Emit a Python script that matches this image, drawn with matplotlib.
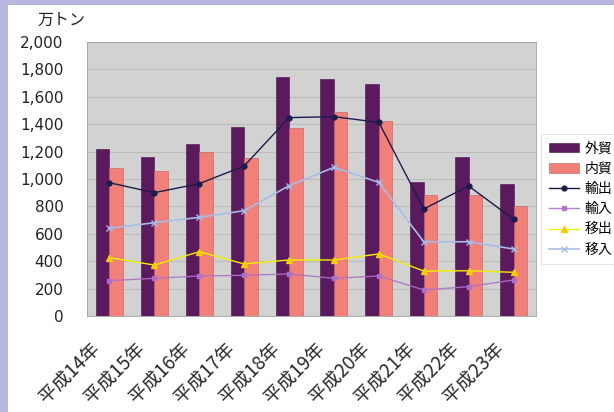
import numpy as np
import matplotlib
matplotlib.use("Agg")
import matplotlib.pyplot as plt
import matplotlib.transforms as mtransforms
from matplotlib.patches import Rectangle
from matplotlib.ticker import FuncFormatter

plt.rcParams['font.family'] = ['Noto Sans CJK JP', 'DejaVu Sans']

# datos (万トン)
anios = ['平成14年', '平成15年', '平成16年', '平成17年', '平成18年',
         '平成19年', '平成20年', '平成21年', '平成22年', '平成23年']
gaibo = [1220, 1163, 1255, 1380, 1747, 1730, 1693, 975, 1160, 961]
naibo = [1080, 1061, 1200, 1153, 1370, 1491, 1426, 883, 883, 805]
yushutsu = [973, 900, 966, 1095, 1448, 1455, 1413, 781, 949, 706]
yunyu = [258, 275, 292, 297, 307, 275, 292, 190, 214, 263]
ishutsu = [426, 372, 469, 380, 409, 409, 453, 328, 330, 319]
inyu = [640, 681, 720, 769, 951, 1085, 975, 542, 542, 489]

fig = plt.figure(figsize=(6.14, 4.12), dpi=100)
fig.patch.set_facecolor('#b6b6de')
# panel blanco
fig.patches.append(Rectangle((8 / 614, 0), 1, 1 - 5 / 412, transform=fig.transFigure,
                             facecolor='white', edgecolor='none', zorder=-10))

ax = fig.add_axes([87 / 614, 1 - 316 / 412, 449 / 614, 274 / 412])
ax.set_facecolor('#d2d2d2')

x = np.arange(len(anios))
w = 0.3
b1 = ax.bar(x - w / 2, gaibo, w, color='#5c1a5e', edgecolor='#4a1048', linewidth=0.4, label='外貿', zorder=2)
b2 = ax.bar(x + w / 2, naibo, w, color='#f08078', edgecolor='#b86060', linewidth=0.4, label='内貿', zorder=2)

l1, = ax.plot(x, yushutsu, color='#1c1c4c', lw=1.0, marker='o', ms=3.5, label='輸出', zorder=4)
l2, = ax.plot(x, yunyu, color='#b070c8', lw=1.0, marker='s', ms=3, alpha=0.9, label='輸入', zorder=4)
l3, = ax.plot(x, ishutsu, color='#f2f000', lw=1.0, marker='^', ms=5, mfc='#f5c800', mec='#f5d000', label='移出', zorder=4)
l4, = ax.plot(x, inyu, color='#a8bce8', lw=1.2, marker='x', ms=4, label='移入', zorder=4)

ax.set_xlim(-0.5, len(anios) - 0.5)
ax.set_ylim(0, 2000)
ax.set_yticks(np.arange(0, 2001, 200))
ax.yaxis.set_major_formatter(FuncFormatter(lambda v, p: f'{int(v):,}'))
ax.grid(axis='y', color='#bdbdbd', lw=0.8, zorder=1)
ax.set_axisbelow(True)

ax.set_xticks(x)
ax.set_xticklabels(anios, rotation=45, ha='right', fontsize=13.5, color='#2a2a2a')
ax.tick_params(axis='x', length=0, pad=16)
# desplazar etiquetas un poco a la izquierda
desp = mtransforms.ScaledTranslation(-5 / 100, 0, fig.dpi_scale_trans)
for t in ax.get_xticklabels():
    t.set_transform(t.get_transform() + desp)
ax.tick_params(axis='y', length=0, pad=17)
for t in ax.get_yticklabels():
    t.set_fontfamily('DejaVu Sans')
    t.set_fontsize(11)
    t.set_color('#222222')
for s in ax.spines.values():
    s.set_color('#a0a0a0')
    s.set_linewidth(0.6)

fig.text(37 / 614, 1 - 20 / 412, '万トン', fontsize=11.5, va='center', ha='left', color='#222222')

leg = ax.legend(handles=[b1, b2, l1, l2, l3, l4], loc='center left',
                bbox_to_anchor=(541 / 614, 1 - 199 / 412),
                bbox_transform=fig.transFigure, fontsize=10, frameon=True, fancybox=False,
                handlelength=2.2, handletextpad=0.4, labelspacing=0.45, borderpad=0.55,
                borderaxespad=0)
leg.get_frame().set_edgecolor('#d8d8d8')
leg.get_frame().set_linewidth(0.6)

fig.savefig('out.png', dpi=100, facecolor=fig.get_facecolor())
